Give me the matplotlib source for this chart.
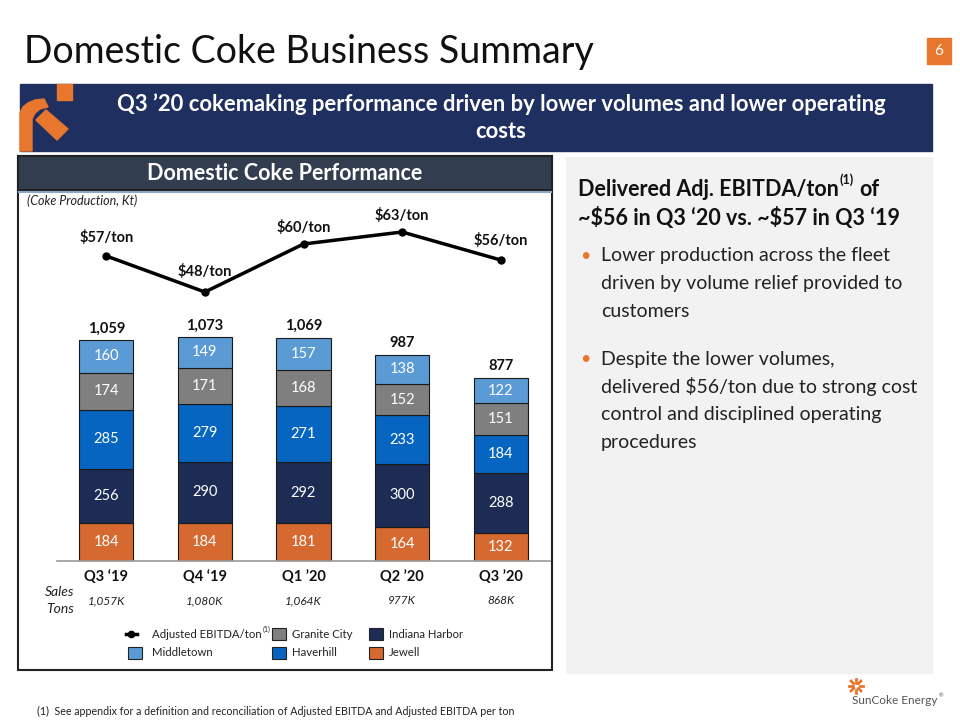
import matplotlib
matplotlib.use("Agg")
import matplotlib.pyplot as plt
from matplotlib.patches import Rectangle, Polygon
import numpy as np

plt.rcParams['font.family'] = ['Lato', 'DejaVu Sans']
plt.rcParams['text.parse_math'] = False

# ---- data ----
quarters = ["Q3 \u201819", "Q4 \u201819", "Q1 \u201920", "Q2 \u201920", "Q3 \u201920"]
jewell = [184, 184, 181, 164, 132]
indiana_harbor = [256, 290, 292, 300, 288]
haverhill = [285, 279, 271, 233, 184]
granite_city = [174, 171, 168, 152, 151]
middletown = [160, 149, 157, 138, 122]
totals = [1059, 1073, 1069, 987, 877]
ebitda_per_ton = [57, 48, 60, 63, 56]
sales_tons = ["1,057K", "1,080K", "1,064K", "977K", "868K"]

series = [
    ("Jewell", jewell, "#D5692F"),
    ("Indiana Harbor", indiana_harbor, "#1C2C55"),
    ("Haverhill", haverhill, "#0565C0"),
    ("Granite City", granite_city, "#7F7F7F"),
    ("Middletown", middletown, "#5B9BD5"),
]

W, H = 960, 720
fig = plt.figure(figsize=(9.6, 7.2), dpi=100)
fig.patch.set_facecolor("white")

bg = fig.add_axes([0, 0, 1, 1])
bg.set_xlim(0, W)
bg.set_ylim(H, 0)
bg.axis("off")
renderer = fig.canvas.get_renderer()


def px_axes(x0, y0, x1, y1):
    return [x0 / W, 1 - y1 / H, (x1 - x0) / W, (y1 - y0) / H]


def right_edge(t):
    # text x-extent in pixels == bg data x
    return t.get_window_extent(renderer=renderer).x1


orange = "#E8762D"
dark = "#111111"

# title + page number
bg.text(24, 52, "Domestic Coke Business Summary", fontsize=27, va="center", ha="left", color=dark)
bg.add_patch(Rectangle((927, 38), 24, 26, color=orange))
bg.text(939, 51, "6", color="white", fontsize=11, ha="center", va="center")

# banner
navy = "#1F3060"
bg.add_patch(Rectangle((20, 84), 912, 67, color=navy))
bg.add_patch(Rectangle((57, 84), 15, 16, color=orange))
bg.add_patch(Polygon([(20, 151), (20, 113), (23, 107), (28, 103), (35, 100), (44, 99), (48, 107),
                      (40, 109), (35, 113), (32, 119), (32, 151)], color=orange))
bg.add_patch(Polygon([(36, 120), (46, 110), (68, 129), (57, 140)], color=orange))
bg.text(501, 104, "Q3 \u201920 cokemaking performance driven by lower volumes and lower operating",
        color="white", fontsize=15.8, fontweight="bold", ha="center", va="center")
bg.text(501, 132, "costs", color="white", fontsize=15.8, fontweight="bold", ha="center", va="center")

# left panel
bg.add_patch(Rectangle((18, 156), 534, 514, facecolor="white", edgecolor="#222222", lw=1.5))
bg.add_patch(Rectangle((18, 156), 534, 34, facecolor="#323E50", edgecolor="#222222", lw=1.5))
bg.plot([19, 551], [191.5, 191.5], color="#8EA9C8", lw=1.5)
bg.text(285, 174, "Domestic Coke Performance", color="white", fontsize=15.5, fontweight="bold",
        ha="center", va="center")
bg.text(27, 201, "(Coke Production, Kt)", fontsize=9, style="italic", ha="left", va="center", color="#222222")

# right panel
bg.add_patch(Rectangle((566, 157), 366, 516, color="#F2F2F2"))

# chart axes
ax = fig.add_axes(px_axes(57, 185, 550, 561))
ax.set_xlim(-0.5, 4.5)
ax.set_ylim(0, 1800)
ax.axis("off")
x = np.arange(len(quarters))
bottom = np.zeros(len(quarters))
for name, vals, col in series:
    vals = np.array(vals, dtype=float)
    ax.bar(x, vals, 0.55, bottom=bottom, color=col, edgecolor="#1a1a1a", lw=0.8)
    for xi, b, v in zip(x, bottom, vals):
        ax.text(xi, b + v / 2, f"{int(v)}", color="white", fontsize=10.5, ha="center", va="center")
    bottom += vals
for xi, t, b in zip(x, totals, bottom):
    ax.text(xi, b + 55, f"{t:,}", fontsize=10.5, fontweight="bold", ha="center", va="center", color=dark)
ax.plot([-0.5, 4.5], [0, 0], color="#999999", lw=1.2, clip_on=False)

lax = ax.twinx()
lax.set_ylim(-19.25, 74.75)
lax.axis("off")
lax.plot(x, ebitda_per_ton, color="black", lw=2.5, marker="o", ms=5)
label_dy = [4.5, 5.2, 4.0, 4.2, 4.8]
for xi, v, dy in zip(x, ebitda_per_ton, label_dy):
    lax.text(xi, v + dy, f"${v}/ton", fontsize=10.5, fontweight="bold", ha="center", va="center", color=dark)

# x labels and sales tons
for xi, q, s in zip(x, quarters, sales_tons):
    px = 57 + (xi + 0.5) * 98.6
    bg.text(px, 577, q, fontsize=10.5, fontweight="bold", ha="center", va="center", color=dark)
    bg.text(px, 601, s, fontsize=8.5, style="italic", ha="center", va="center", color="#222222")
bg.text(60, 592, "Sales", fontsize=10, style="italic", ha="center", va="center", color="#222222")
bg.text(60, 609, "Tons", fontsize=10, style="italic", ha="center", va="center", color="#222222")

# legend
bg.plot([126, 137], [634, 634], color="black", lw=2.5)
bg.plot([131], [634], "o", color="black", ms=4.5)
t = bg.text(152, 634, "Adjusted EBITDA/ton", fontsize=8.2, ha="left", va="center", color="#222222")
bg.text(right_edge(t) + 1, 629, "(1)", fontsize=5, ha="left", va="center", color="#222222")
leg_items = [
    (272, 634, "#7F7F7F", "Granite City"),
    (369, 634, "#1C2C55", "Indiana Harbor"),
    (128, 653, "#5B9BD5", "Middletown"),
    (272, 653, "#0565C0", "Haverhill"),
    (369, 653, "#D5692F", "Jewell"),
]
for lx, ly, col, name in leg_items:
    bg.add_patch(Rectangle((lx, ly - 6), 13.5, 12, facecolor=col, edgecolor="#222222", lw=0.8))
    bg.text(lx + 20 if lx != 128 else lx + 24, ly, name, fontsize=8.2, ha="left", va="center", color="#222222")

# right panel text
t = bg.text(578, 190, "Delivered Adj. EBITDA/ton", fontsize=15.5, fontweight="bold", ha="left", va="center", color=dark)
sx = right_edge(t) + 1
t2 = bg.text(sx, 180, "(1)", fontsize=9, fontweight="bold", ha="left", va="center", color=dark)
bg.text(right_edge(t2) + 5, 190, "of", fontsize=15.5, fontweight="bold", ha="left", va="center", color=dark)
bg.text(578, 218, "~$56 in Q3 \u201820 vs. ~$57 in Q3 \u201819", fontsize=15.5, fontweight="bold",
        ha="left", va="center", color=dark)

bullets = [
    ["Lower production across the fleet", "driven by volume relief provided to", "customers"],
    ["Despite the lower volumes,", "delivered $56/ton due to strong cost", "control and disciplined operating", "procedures"],
]
starts = [256, 359]
for lines, y0 in zip(bullets, starts):
    bg.text(580, y0, "\u2022", color=orange, fontsize=13, ha="left", va="center")
    for i, ln in enumerate(lines):
        bg.text(601, y0 + i * 27.8, ln, fontsize=14, ha="left", va="center", color="#222222")

# footnote
bg.text(37, 711, "(1)  See appendix for a definition and reconciliation of Adjusted EBITDA and Adjusted EBITDA per ton",
        fontsize=7.65, ha="left", va="center", color="#222222")

# logo
cx, cy = 856, 686
for ang in np.linspace(0, 2 * np.pi, 8, endpoint=False):
    bg.plot([cx + 3.5 * np.cos(ang), cx + 7 * np.cos(ang)], [cy + 3.5 * np.sin(ang), cy + 7 * np.sin(ang)],
            color=orange, lw=2)
t = bg.text(852, 701, "SunCoke Energy", fontsize=8.5, ha="left", va="center", color="#555555")
bg.text(right_edge(t) + 1, 696, "\u00ae", fontsize=4, ha="left", va="center", color="#555555")

fig.savefig("out.png", dpi=100)
